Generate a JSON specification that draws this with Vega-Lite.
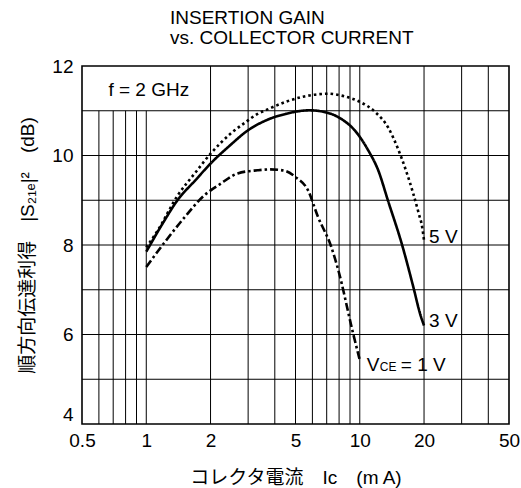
{
  "$schema": "https://vega.github.io/schema/vega-lite/v6.json",
  "width": 427,
  "height": 358,
  "autosize": "none",
  "padding": {"left": 82, "top": 66, "right": 12, "bottom": 64},
  "background": "white",
  "title": {
    "text": ["INSERTION GAIN", "vs. COLLECTOR CURRENT"],
    "anchor": "start",
    "frame": "group",
    "dx": 88,
    "fontSize": 19,
    "font": "Liberation Sans",
    "fontWeight": "normal",
    "lineHeight": 20,
    "offset": 9,
    "color": "#000"
  },
  "config": {
    "view": {"stroke": "#000", "strokeWidth": 1.6},
    "font": "Liberation Sans, Noto Sans CJK JP, DejaVu Sans"
  },
  "datasets": {
    "gridV": [
      {"x": 0.6, "y": 4, "y2": 11},
      {"x": 0.7, "y": 4, "y2": 11},
      {"x": 0.8, "y": 4, "y2": 11},
      {"x": 0.9, "y": 4, "y2": 11},
      {"x": 1, "y": 4, "y2": 11},
      {"x": 2, "y": 4, "y2": 12},
      {"x": 3, "y": 4, "y2": 12},
      {"x": 4, "y": 4, "y2": 12},
      {"x": 5, "y": 4, "y2": 12},
      {"x": 6, "y": 4, "y2": 12},
      {"x": 7, "y": 4, "y2": 12},
      {"x": 8, "y": 4, "y2": 12},
      {"x": 9, "y": 4, "y2": 12},
      {"x": 10, "y": 4, "y2": 12},
      {"x": 20, "y": 4, "y2": 12},
      {"x": 30, "y": 4, "y2": 12},
      {"x": 40, "y": 4, "y2": 12}
    ],
    "gridH": [
      {"y": 5, "x": 0.5, "x2": 50},
      {"y": 6, "x": 0.5, "x2": 50},
      {"y": 7, "x": 0.5, "x2": 50},
      {"y": 8, "x": 0.5, "x2": 50},
      {"y": 9, "x": 0.5, "x2": 50},
      {"y": 10, "x": 0.5, "x2": 50},
      {"y": 11, "x": 0.5, "x2": 50}
    ],
    "curves": [
      {"v": "5V", "x": 1.0, "y": 7.95},
      {"v": "5V", "x": 1.13, "y": 8.32},
      {"v": "5V", "x": 1.4, "y": 9.1},
      {"v": "5V", "x": 1.7, "y": 9.62},
      {"v": "5V", "x": 2.0, "y": 10.04},
      {"v": "5V", "x": 2.5, "y": 10.5},
      {"v": "5V", "x": 2.93, "y": 10.75},
      {"v": "5V", "x": 3.32, "y": 10.93},
      {"v": "5V", "x": 3.7, "y": 11.03},
      {"v": "5V", "x": 4.5, "y": 11.2},
      {"v": "5V", "x": 5.5, "y": 11.32},
      {"v": "5V", "x": 7.1, "y": 11.38},
      {"v": "5V", "x": 8.5, "y": 11.32},
      {"v": "5V", "x": 10, "y": 11.2},
      {"v": "5V", "x": 11.76, "y": 10.98},
      {"v": "5V", "x": 13.6, "y": 10.62},
      {"v": "5V", "x": 15.1, "y": 10.15},
      {"v": "5V", "x": 16.5, "y": 9.65},
      {"v": "5V", "x": 17.8, "y": 9.15},
      {"v": "5V", "x": 18.9, "y": 8.7},
      {"v": "5V", "x": 19.6, "y": 8.4},
      {"v": "5V", "x": 20, "y": 8.1},
      {"v": "3V", "x": 1.0, "y": 7.85},
      {"v": "3V", "x": 1.2, "y": 8.5},
      {"v": "3V", "x": 1.4, "y": 9.0},
      {"v": "3V", "x": 1.7, "y": 9.45},
      {"v": "3V", "x": 2.0, "y": 9.82},
      {"v": "3V", "x": 2.5, "y": 10.25},
      {"v": "3V", "x": 2.93, "y": 10.53},
      {"v": "3V", "x": 3.7, "y": 10.8},
      {"v": "3V", "x": 4.5, "y": 10.93},
      {"v": "3V", "x": 5.82, "y": 11.01},
      {"v": "3V", "x": 7.0, "y": 10.96},
      {"v": "3V", "x": 8.3, "y": 10.8},
      {"v": "3V", "x": 9.48, "y": 10.56},
      {"v": "3V", "x": 10.94, "y": 10.12},
      {"v": "3V", "x": 12.2, "y": 9.67},
      {"v": "3V", "x": 13.6, "y": 8.97},
      {"v": "3V", "x": 15.7, "y": 8.04},
      {"v": "3V", "x": 17.8, "y": 7.07},
      {"v": "3V", "x": 19.2, "y": 6.45},
      {"v": "3V", "x": 20, "y": 6.2},
      {"v": "1V", "x": 1.0, "y": 7.51},
      {"v": "1V", "x": 1.21, "y": 8.04},
      {"v": "1V", "x": 1.5, "y": 8.6},
      {"v": "1V", "x": 1.87, "y": 9.11},
      {"v": "1V", "x": 2.2, "y": 9.35},
      {"v": "1V", "x": 2.68, "y": 9.6},
      {"v": "1V", "x": 3.32, "y": 9.67},
      {"v": "1V", "x": 3.8, "y": 9.69},
      {"v": "1V", "x": 4.44, "y": 9.66},
      {"v": "1V", "x": 5.0, "y": 9.52},
      {"v": "1V", "x": 5.71, "y": 9.23},
      {"v": "1V", "x": 6.37, "y": 8.63},
      {"v": "1V", "x": 7.35, "y": 7.96},
      {"v": "1V", "x": 7.9, "y": 7.47},
      {"v": "1V", "x": 9.3, "y": 6.03},
      {"v": "1V", "x": 10, "y": 5.43}
    ],
    "labels": [
      {"x": 0.63, "y": 11.33, "t": "f = 2 GHz"},
      {"x": 20, "y": 8.05, "t": "5 V"},
      {"x": 20, "y": 6.17, "t": "3 V"}
    ],
    "vce": [{"x": 10, "y": 5.19, "a": "V", "b": "CE", "c": "= 1 V"}]
  },
  "layer": [
    {
      "data": {"name": "gridV"},
      "mark": {"type": "rule", "color": "#000", "strokeWidth": 1},
      "encoding": {
        "x": {
          "field": "x",
          "type": "quantitative",
          "scale": {"type": "log", "domain": [0.5, 50], "nice": false},
          "axis": {
            "values": [0.5, 1, 2, 5, 10, 20, 50],
            "format": "~g",
            "grid": false,
            "ticks": false,
            "domain": false,
            "labelFontSize": 19,
            "labelColor": "#000",
            "labelPadding": 7,
            "labelFlush": false,
            "labelOverlap": false,
            "labelBound": false,
            "title": "コレクタ電流　Ic　(m A)",
            "titleFontSize": 19,
            "titleFontWeight": "normal",
            "titleColor": "#000",
            "titlePadding": 18
          }
        },
        "y": {
          "field": "y",
          "type": "quantitative",
          "scale": {"domain": [4, 12], "nice": false, "zero": false},
          "axis": {
            "values": [4, 6, 8, 10, 12],
            "grid": false,
            "ticks": false,
            "domain": false,
            "labelFontSize": 19,
            "labelColor": "#000",
            "labelPadding": 9,
            "labelFlush": false,
            "labelOverlap": false,
            "labelBound": false,
            "labelBaseline": {"condition": {"test": "datum.value == 4", "value": "bottom"}, "value": "middle"},
            "title": "順方向伝達利得　|S₂₁ₑ|²　(dB)",
            "titleFontSize": 19,
            "titleFontWeight": "normal",
            "titleColor": "#000",
            "titlePadding": 14
          }
        },
        "y2": {"field": "y2"}
      }
    },
    {
      "data": {"name": "gridH"},
      "mark": {"type": "rule", "color": "#000", "strokeWidth": 1},
      "encoding": {
        "y": {"field": "y", "type": "quantitative"},
        "x": {"field": "x", "type": "quantitative"},
        "x2": {"field": "x2"}
      }
    },
    {
      "data": {"name": "curves"},
      "mark": {"type": "line", "color": "#000", "strokeWidth": 2.6, "interpolate": "monotone", "strokeCap": "butt"},
      "encoding": {
        "x": {"field": "x", "type": "quantitative"},
        "y": {"field": "y", "type": "quantitative"},
        "detail": {"field": "v"},
        "strokeDash": {
          "field": "v",
          "type": "nominal",
          "scale": {"domain": ["1V", "3V", "5V"], "range": [[8, 3, 2.5, 3], [1, 0], [2.6, 3]]},
          "legend": null
        }
      }
    },
    {
      "data": {"name": "labels"},
      "mark": {"type": "text", "align": "left", "baseline": "alphabetic", "fontSize": 19, "dx": 5, "color": "#000"},
      "encoding": {
        "x": {"field": "x", "type": "quantitative"},
        "y": {"field": "y", "type": "quantitative"},
        "text": {"field": "t"}
      }
    },
    {
      "data": {"name": "vce"},
      "mark": {"type": "text", "align": "left", "baseline": "alphabetic", "fontSize": 19, "dx": 7, "color": "#000"},
      "encoding": {
        "x": {"field": "x", "type": "quantitative"},
        "y": {"field": "y", "type": "quantitative"},
        "text": {"field": "a"}
      }
    },
    {
      "data": {"name": "vce"},
      "mark": {"type": "text", "align": "left", "baseline": "alphabetic", "fontSize": 12, "dx": 20, "color": "#000"},
      "encoding": {
        "x": {"field": "x", "type": "quantitative"},
        "y": {"field": "y", "type": "quantitative"},
        "text": {"field": "b"}
      }
    },
    {
      "data": {"name": "vce"},
      "mark": {"type": "text", "align": "left", "baseline": "alphabetic", "fontSize": 19, "dx": 41, "color": "#000"},
      "encoding": {
        "x": {"field": "x", "type": "quantitative"},
        "y": {"field": "y", "type": "quantitative"},
        "text": {"field": "c"}
      }
    }
  ]
}
